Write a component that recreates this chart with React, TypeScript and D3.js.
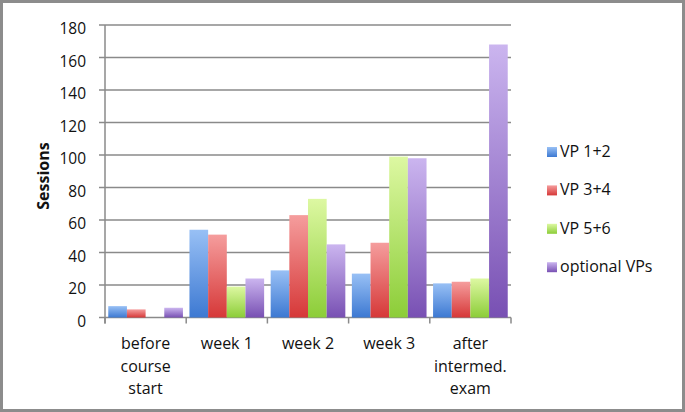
import React from "react";
import * as d3 from "d3";

const categories = [
  ["before", "course", "start"],
  ["week 1"],
  ["week 2"],
  ["week 3"],
  ["after", "intermed.", "exam"],
];
const seriesNames = ["VP 1+2", "VP 3+4", "VP 5+6", "optional VPs"];
const vp12 = [7, 54, 29, 27, 21];
const vp34 = [5, 51, 63, 46, 22];
const vp56 = [0, 19, 73, 99, 24];
const optional = [6, 24, 45, 98, 168];
const yTicks = [0, 20, 40, 60, 80, 100, 120, 140, 160, 180];

// top / bottom colours of the bar gradients
const colorTop = ["#98c0f5", "#f59d9d", "#ddf8a2", "#cbb5ef"];
const colorBottom = ["#3d79d2", "#d63838", "#8ccd38", "#7850b3"];

const W = 685;
const H = 412;
const FONT = "'Open Sans', 'Noto Sans', sans-serif";

export default function App() {
  const series = [vp12, vp34, vp56, optional];
  const left = 105, right = 511, top = 25, bottom = 317.5;

  const x = d3.scaleBand<number>().domain(d3.range(categories.length)).range([left, right]).paddingInner(0).paddingOuter(0);
  const inner = d3.scaleBand<number>().domain(d3.range(series.length)).range([0, x.bandwidth()]).paddingOuter(0.175).paddingInner(0);
  const y = d3.scaleLinear().domain([0, 180]).range([bottom, top]);

  const grid = "#8a8a8a";

  return (
    <div style={{ position: "absolute", left: 0, top: 0 }}>
      <svg width={W} height={H} style={{ display: "block", background: "#fff" }}>
        <defs>
          {series.map((_, i) => (
            <linearGradient key={i} id={"g" + i} x1="0" y1="0" x2="0" y2="1">
              <stop offset="0%" stopColor={colorTop[i]} />
              <stop offset="100%" stopColor={colorBottom[i]} />
            </linearGradient>
          ))}
        </defs>
        <rect x={1.5} y={1.5} width={W - 3} height={H - 3} fill="none" stroke="#8c8c8c" strokeWidth={3} />

        {/* gridlines + y ticks */}
        {yTicks.map(t => (
          <g key={t}>
            <line x1={left - 6} x2={right} y1={y(t)} y2={y(t)} stroke={grid} strokeWidth={1.5} />
            <text x={86} y={y(t) + 9} textAnchor="end" fontFamily={FONT} fontSize={15.5} fill="#111">{t}</text>
          </g>
        ))}
        <line x1={left} x2={left} y1={top} y2={bottom + 6} stroke={grid} strokeWidth={1.5} />
        {d3.range(categories.length + 1).map(i => {
          const xx = i < categories.length ? x(i)! : right;
          return <line key={i} x1={xx} x2={xx} y1={bottom} y2={bottom + 6} stroke={grid} strokeWidth={1.5} />;
        })}

        {/* bars */}
        {series.map((vals, s) => (
          <g key={s}>
            {vals.map((v, c) => v > 0 && (
              <rect key={c} x={x(c)! + inner(s)!} y={y(v)} width={inner.bandwidth()} height={y(0) - y(v)} fill={`url(#g${s})`} />
            ))}
          </g>
        ))}

        {/* category labels */}
        {categories.map((lines, c) => (
          <text key={c} textAnchor="middle" fontFamily={FONT} fontSize={16} fill="#111">
            {lines.map((l, k) => (
              <tspan key={k} x={x(c)! + x.bandwidth() / 2} y={349 + k * 22.5}>{l}</tspan>
            ))}
          </text>
        ))}

        {/* axis title */}
        <text transform="translate(49,176) rotate(-90)" textAnchor="middle" fontFamily={FONT} fontWeight="bold" fontSize={16} fill="#111">Sessions</text>

        {/* legend */}
        {seriesNames.map((name, i) => (
          <g key={name} transform={`translate(547,${157 + i * 38.4})`}>
            <rect x={0} y={-10} width={10} height={10} fill={`url(#g${i})`} />
            <text x={13} y={0} fontFamily={FONT} fontSize={16} fill="#111">{name}</text>
          </g>
        ))}
      </svg>
    </div>
  );
}
